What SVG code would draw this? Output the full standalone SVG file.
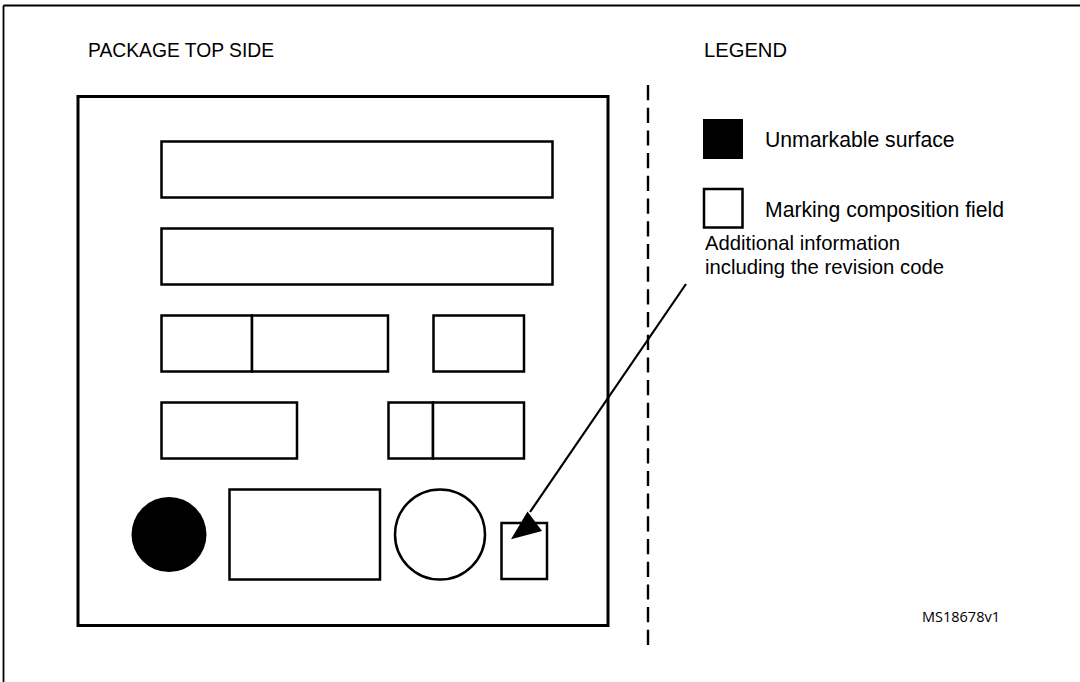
<svg xmlns="http://www.w3.org/2000/svg" width="1080" height="682" viewBox="0 0 1080 682">
<style>
.box{fill:#fff;stroke:#000;stroke-width:2.5}
.pkg{fill:#fff;stroke:#000;stroke-width:3}
.hdr{font-family:"Liberation Sans",Arial,sans-serif;font-size:19.3px;fill:#000}
.lbl{font-family:"Liberation Sans",Arial,sans-serif;font-size:21.2px;fill:#000}
.note{font-family:"Liberation Sans",Arial,sans-serif;font-size:20.3px;fill:#000}
.ref{font-family:"Open Sans","Liberation Sans",sans-serif;font-size:14.5px;fill:#000}
</style>
<rect x="0" y="0" width="1080" height="682" fill="#fff"/>
<g id="frame">
<line x1="3.5" y1="5.5" x2="1080" y2="5.5" stroke="#000" stroke-width="1.8"/>
<line x1="3.5" y1="5.5" x2="3.5" y2="682" stroke="#000" stroke-width="1.8"/>
</g>
<text class="hdr" x="88" y="57">PACKAGE TOP SIDE</text>
<text class="hdr" x="704" y="57" style="font-size:20.2px">LEGEND</text>
<g id="package">
<rect class="pkg" x="78" y="96.5" width="530" height="529"/>
</g>
<g id="field-row1"><rect class="box" x="161.5" y="141.5" width="391" height="56"/></g>
<g id="field-row2"><rect class="box" x="161.5" y="228.5" width="391" height="56"/></g>
<g id="field-row3a"><rect class="box" x="161.5" y="315.5" width="90.5" height="56"/><rect class="box" x="252" y="315.5" width="136" height="56"/></g>
<g id="field-row3b"><rect class="box" x="433.5" y="315.5" width="90.5" height="56"/></g>
<g id="field-row4a"><rect class="box" x="161.5" y="402.5" width="135.5" height="56"/></g>
<g id="field-row4b"><rect class="box" x="388.5" y="402.5" width="44.5" height="56"/><rect class="box" x="433" y="402.5" width="91" height="56"/></g>
<g id="unmarkable-dot"><circle cx="169" cy="534.5" r="37.5" fill="#000"/></g>
<g id="field-row5"><rect class="box" x="229.5" y="489.5" width="150.5" height="90"/></g>
<g id="field-circle"><circle cx="440" cy="534.5" r="45" fill="#fff" stroke="#000" stroke-width="2.5"/></g>
<g id="field-revision"><rect class="box" x="501.5" y="523" width="45.5" height="56"/></g>
<g id="divider"><line x1="648" y1="85" x2="648" y2="645" stroke="#000" stroke-width="2.4" stroke-dasharray="15.2 7.5"/></g>
<g id="legend-unmarkable">
<rect x="703" y="119" width="40" height="40" fill="#000"/>
<text class="lbl" x="765" y="147">Unmarkable surface</text>
</g>
<g id="legend-field">
<rect class="box" x="704" y="189" width="38.5" height="38.5"/>
<text class="lbl" x="765" y="217">Marking composition field</text>
</g>
<g id="note">
<text class="note" x="705" y="250">Additional information</text>
<text class="note" x="705" y="274">including the revision code</text>
</g>
<g id="connectors">
<line x1="686" y1="284" x2="530" y2="512" stroke="#000" stroke-width="2.2"/>
<polygon points="527.5,511.5 542,531 511,539.3" fill="#000"/>
</g>
<text class="ref" x="922" y="622">MS18678v1</text>
</svg>
